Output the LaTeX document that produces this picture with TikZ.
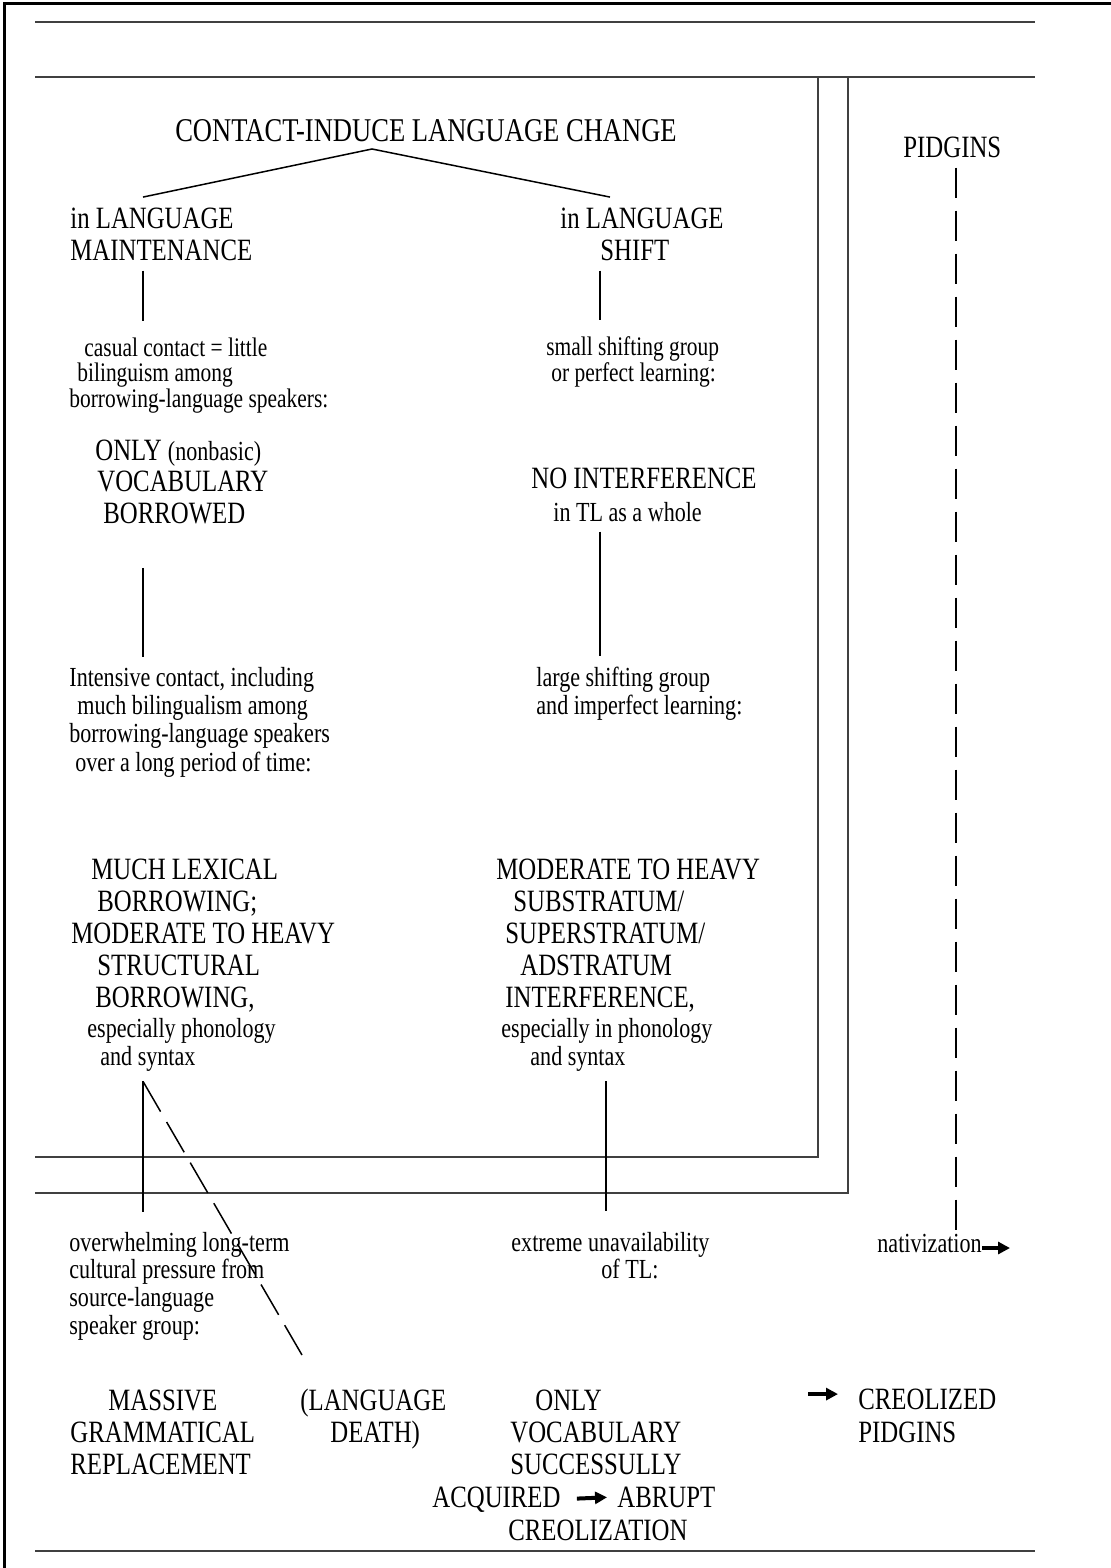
\documentclass[tikz,border=0pt]{standalone}
\usepackage{fontspec}
\setmainfont{Liberation Serif}[FakeStretch=0.8]
\usetikzlibrary{arrows.meta}

\setlength{\lineskiplimit}{-20pt}
\newcommand{\pad}[1]{\hspace*{#1pt}}
\newcommand{\bigsize}{\fontsize{15.5}{16}\selectfont}
\newcommand{\notesize}{\fontsize{13.8}{14}\selectfont}

\tikzset{
  txt/.style={inner xsep=0pt, inner ysep=5pt, align=left, anchor=base west},
  caps/.style={txt, font=\bigsize},
  note/.style={txt, font=\notesize},
  tight/.style={txt, font=\fontsize{13.4}{12.75}\selectfont},
  rule/.style={line width=0.6pt, black!75},
  link/.style={line width=0.75pt},
  dashlink/.style={link, dash pattern=on 17.5pt off 6pt},
  fat/.style={line width=2pt, -{Triangle[length=6pt,width=6pt]}},
}

\begin{document}
\begin{tikzpicture}[x=0.5pt,y=-0.5pt]
\useasboundingbox (0,0) rectangle (1111,1568);
% page frame and rules
\draw[line width=1.5pt] (4,1568) -- (4,4) -- (1111,4);
\draw[rule] (35,22) -- (1035,22);
\draw[rule] (35,77) -- (1035,77);
\draw[rule] (818,77) -- (818,1157) -- (35,1157);
\draw[rule] (848,77) -- (848,1193) -- (35,1193);
\draw[rule] (35,1551) -- (1035,1551);

% text blocks, placed at the baseline of their last line
\node[caps, anchor=base, font=\fontsize{16.6}{18}\selectfont] (title) at (426,141) {CONTACT-INDUCE LANGUAGE CHANGE};
\node[caps] (maint) at (70,260) {in LANGUAGE\\MAINTENANCE};
\node[caps] (shift) at (560,260) {in LANGUAGE\\\pad{20}SHIFT};
\node[tight] (casual) at (69,407) {\pad{7.5}casual contact = little\\\pad{4}bilinguism among\\borrowing-language speakers:};
\node[tight] (smallgrp) at (546,381) {small shifting group\\\pad{2.5}or perfect learning:};
\node[caps, font=\fontsize{15.5}{15.75}\selectfont] (onlyL) at (95,523) {ONLY {\notesize(nonbasic)}\\\pad{1}VOCABULARY\\\pad{4}BORROWED};
\node[caps, font=\fontsize{15.5}{16.5}\selectfont] (noint) at (531,521) {NO INTERFERENCE\\\pad{11}{\notesize in TL as a whole}};
\node[note, font=\fontsize{13.8}{14.15}\selectfont] (intens) at (69,771) {Intensive contact, including\\\pad{4}much bilingualism among\\borrowing-language speakers\\\pad{3}over a long period of time:};
\node[note] (largegrp) at (536,714) {large shifting group\\and imperfect learning:};
\node[caps] (lexL) at (71,1065) {\pad{10}MUCH LEXICAL\\\pad{13}BORROWING;\\MODERATE TO HEAVY\\\pad{13}STRUCTURAL\\\pad{12}BORROWING,\\[-1pt]\pad{8}{\notesize especially phonology}\\[-2pt]\pad{14.5}{\notesize and syntax}};
\node[caps] (lexR) at (496,1065) {MODERATE TO HEAVY\\\pad{8.5}SUBSTRATUM/\\\pad{4.5}SUPERSTRATUM/\\\pad{12}ADSTRATUM\\\pad{4.5}INTERFERENCE,\\[-1pt]\pad{2.5}{\notesize especially in phonology}\\[-2pt]\pad{17}{\notesize and syntax}};
\node[note, font=\fontsize{13.8}{13.8}\selectfont] (press) at (69,1334) {overwhelming long-term\\cultural pressure from\\source-language\\speaker group:};
\node[note, font=\fontsize{13.8}{13.5}\selectfont] (extreme) at (511,1278) {extreme unavailability\\\pad{45}of TL:};
\node[caps] (massive) at (70,1474) {\pad{19}MASSIVE\\GRAMMATICAL\\REPLACEMENT};
\node[caps] (death) at (300,1442) {(LANGUAGE\\\pad{15}DEATH)};
\node[caps] (onlyR) at (510,1474) {\pad{12.5}ONLY\\VOCABULARY\\SUCCESSULLY};
\node[caps] (acq) at (432,1507) {ACQUIRED};
\node[caps] (abrupt) at (617,1507) {ABRUPT};
\node[caps] (creoliz) at (508,1540) {CREOLIZATION};
\node[caps] (pidg) at (903,157) {PIDGINS};
\node[note] (nat) at (877,1252) {nativization};
\node[caps, font=\fontsize{15.5}{16.5}\selectfont] (creol) at (858,1442) {CREOLIZED\\PIDGINS};

\coordinate (apex) at (372,149);
\coordinate (lcol) at (143,0);
\coordinate (rcol) at (600,0);
\coordinate (rtree) at (610,0);
\coordinate (rlow) at (606,0);
\coordinate (pcol) at (956,0);
\coordinate (deathend) at (302,1355);
\coordinate (natend) at (1010,0);
\coordinate (crtail) at (808,0);
\coordinate (crhead) at ([yshift=-8pt]creol.north west);

\draw[link] (maint.north -| lcol) -- (apex) -- (shift.north -| rtree);
\draw[link, shorten >=3pt] (maint.south -| lcol) -- (casual.north -| lcol);
\draw[link, shorten >=3pt] (shift.south -| rcol) -- (smallgrp.north -| rcol);
\draw[link, shorten <=17pt] (onlyL.south -| lcol) -- (intens.north -| lcol);
\draw[link] (noint.south -| rcol) -- (largegrp.north -| rcol);
\draw[link, shorten >=5pt] (lexL.south -| lcol) -- (press.north -| lcol);
\draw[link, shorten >=5pt] (lexR.south -| rlow) -- (extreme.north -| rlow);
\draw[dashlink] (lexL.south -| lcol) -- (deathend);
\draw[link, dash pattern=on 15pt off 6.5pt, shorten >=-5pt] (pidg.south -| pcol) -- (nat.north -| pcol);
\draw[fat, shorten <=8pt, shorten >=5pt] (acq.east) -- (abrupt.west);
\draw[fat] ([yshift=2pt]nat.base east) -- ([yshift=2pt]nat.base east -| natend);
\draw[fat, shorten >=10pt] (crtail |- crhead) -- (crhead);
\end{tikzpicture}
\end{document}
